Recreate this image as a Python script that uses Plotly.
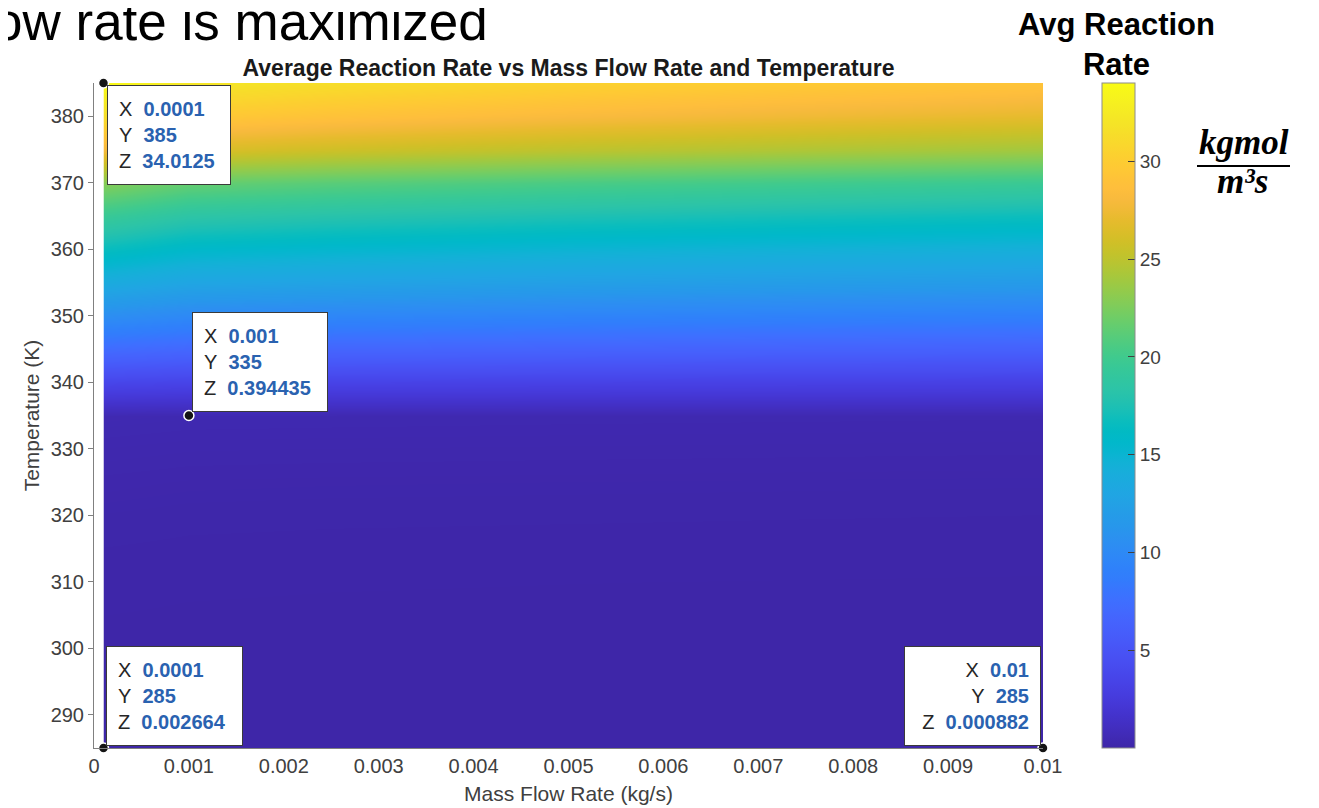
import plotly.graph_objects as go

# ---------------- data ----------------
mass_flow = [0.0001, 0.001, 0.0025, 0.005, 0.0075, 0.01]          # kg/s
temperature = [285, 290, 295, 300, 305, 310, 315, 320, 325, 330, 335,
               340, 345, 350, 355, 360, 365, 370, 375, 380, 385]  # K
# average reaction rate, one row per temperature, one column per mass flow
rate = [
    [0.002664, 0.0019, 0.0015, 0.0012, 0.00102, 0.000882],
    [0.0047, 0.0034, 0.0027, 0.0022, 0.0019, 0.0017],
    [0.0082, 0.0060, 0.0048, 0.0040, 0.0035, 0.0031],
    [0.0140, 0.0104, 0.0085, 0.0072, 0.0064, 0.0058],
    [0.0235, 0.0180, 0.0150, 0.0130, 0.0117, 0.0107],
    [0.040, 0.031, 0.027, 0.024, 0.022, 0.020],
    [0.066, 0.053, 0.047, 0.043, 0.040, 0.037],
    [0.110, 0.090, 0.082, 0.077, 0.072, 0.068],
    [0.180, 0.152, 0.142, 0.135, 0.128, 0.122],
    [0.290, 0.255, 0.245, 0.235, 0.226, 0.218],
    [0.430, 0.394435, 0.385, 0.370, 0.360, 0.350],
    [3.68, 3.48, 3.40, 3.30, 3.22, 3.16],
    [7.25, 6.86, 6.70, 6.50, 6.35, 6.22],
    [10.48, 9.92, 9.68, 9.40, 9.18, 9.00],
    [13.71, 12.98, 12.67, 12.30, 12.02, 11.77],
    [16.61, 15.72, 15.35, 14.90, 14.56, 14.26],
    [19.51, 18.46, 18.03, 17.50, 17.10, 16.75],
    [22.86, 21.63, 21.12, 20.50, 20.03, 19.62],
    [27.88, 26.38, 25.75, 25.00, 24.43, 23.93],
    [31.44, 29.75, 29.05, 28.20, 27.55, 26.99],
    [34.0125, 32.18, 31.42, 30.50, 29.80, 29.19],
]

x_tick_vals = [0, 0.001, 0.002, 0.003, 0.004, 0.005, 0.006, 0.007, 0.008, 0.009, 0.01]
x_tick_text = ["0", "0.001", "0.002", "0.003", "0.004", "0.005", "0.006",
               "0.007", "0.008", "0.009", "0.01"]
y_tick_vals = [290, 300, 310, 320, 330, 340, 350, 360, 370, 380]
cbar_tick_vals = [5, 10, 15, 20, 25, 30]

# data tips: (mass flow, temperature)
tip_mass_flow = [0.0001, 0.001, 0.0001, 0.01]
tip_temperature = [385, 335, 285, 285]

# ---------------- style ----------------
parula_rgb = [
    (0.2422, 0.1504, 0.6603), (0.2504, 0.1650, 0.7076), (0.2578, 0.1818, 0.7511),
    (0.2647, 0.1978, 0.7952), (0.2706, 0.2147, 0.8364), (0.2751, 0.2342, 0.8710),
    (0.2783, 0.2559, 0.8991), (0.2803, 0.2782, 0.9221), (0.2813, 0.3006, 0.9414),
    (0.2810, 0.3228, 0.9579), (0.2795, 0.3447, 0.9717), (0.2760, 0.3667, 0.9829),
    (0.2699, 0.3892, 0.9906), (0.2602, 0.4123, 0.9952), (0.2440, 0.4358, 0.9988),
    (0.2206, 0.4603, 0.9973), (0.1963, 0.4847, 0.9892), (0.1834, 0.5074, 0.9798),
    (0.1786, 0.5289, 0.9682), (0.1764, 0.5499, 0.9520), (0.1687, 0.5703, 0.9359),
    (0.1540, 0.5902, 0.9218), (0.1460, 0.6091, 0.9079), (0.1380, 0.6276, 0.8973),
    (0.1248, 0.6459, 0.8883), (0.1113, 0.6635, 0.8763), (0.0952, 0.6798, 0.8598),
    (0.0689, 0.6948, 0.8394), (0.0297, 0.7082, 0.8163), (0.0036, 0.7203, 0.7917),
    (0.0067, 0.7312, 0.7660), (0.0433, 0.7411, 0.7394), (0.0964, 0.7500, 0.7120),
    (0.1408, 0.7584, 0.6842), (0.1717, 0.7670, 0.6554), (0.1938, 0.7758, 0.6251),
    (0.2161, 0.7843, 0.5923), (0.2470, 0.7918, 0.5567), (0.2906, 0.7973, 0.5188),
    (0.3406, 0.8008, 0.4789), (0.3909, 0.8029, 0.4354), (0.4456, 0.8024, 0.3909),
    (0.5044, 0.7993, 0.3480), (0.5616, 0.7942, 0.3045), (0.6174, 0.7876, 0.2612),
    (0.6720, 0.7793, 0.2227), (0.7242, 0.7698, 0.1910), (0.7738, 0.7598, 0.1646),
    (0.8203, 0.7498, 0.1535), (0.8634, 0.7406, 0.1596), (0.9035, 0.7330, 0.1774),
    (0.9393, 0.7288, 0.2100), (0.9728, 0.7298, 0.2394), (0.9956, 0.7434, 0.2371),
    (0.9970, 0.7659, 0.2199), (0.9952, 0.7893, 0.2028), (0.9892, 0.8136, 0.1885),
    (0.9786, 0.8386, 0.1766), (0.9676, 0.8639, 0.1643), (0.9610, 0.8890, 0.1537),
    (0.9597, 0.9135, 0.1423), (0.9628, 0.9373, 0.1265), (0.9691, 0.9606, 0.1064),
    (0.9769, 0.9839, 0.0805),
]
n = len(parula_rgb)
parula = [[i / (n - 1), "rgb(%d,%d,%d)" % tuple(round(c * 255) for c in rgb)]
          for i, rgb in enumerate(parula_rgb)]

FONT = "Liberation Sans, Arial, Helvetica, sans-serif"
SERIF = "Liberation Serif, DejaVu Serif, serif"
GRAY = "#404040"
AXIS_GRAY = "#808080"
TIP_BLUE = "#2a62b0"

# page has an 8px body margin: figure is drawn at (8, 8) in the window
OFF = 8
FW, FH = 1319 - OFF, 808 - OFF
# plot area in window pixels
SL, SR, ST, SB = 94, 1043, 83, 748
ML, MT = SL - OFF, ST - OFF
MR, MB = FW - (SR - OFF), FH - (SB - OFF)


def px(xs):
    return (xs - SL) / (SR - SL)


def py(ys):
    return (SB - ys) / (SB - ST)


zmin = min(min(r) for r in rate)
zmax = max(max(r) for r in rate)

fig = go.Figure()
fig.add_trace(go.Contour(
    x=mass_flow, y=temperature, z=rate,
    colorscale=parula, zmin=zmin, zmax=zmax,
    contours=dict(coloring="heatmap", showlines=False),
    line=dict(width=0),
    hoverinfo="skip",
    colorbar=dict(
        x=px(1102), xanchor="left", xpad=0,
        y=0.5, yanchor="middle", len=1, lenmode="fraction", ypad=0,
        thickness=33, outlinewidth=1, outlinecolor="#8c8c8c",
        ticks="inside", ticklen=7, tickcolor=GRAY, tickwidth=1,
        tickvals=cbar_tick_vals,
        tickfont=dict(family=FONT, size=19, color=GRAY),
    ),
))

fig.add_trace(go.Scatter(
    x=tip_mass_flow, y=tip_temperature, mode="markers",
    marker=dict(size=10, color="#141414", line=dict(color="white", width=1.5)),
    cliponaxis=False, hoverinfo="skip", showlegend=False,
))


def lookup(m, t):
    return rate[temperature.index(t)][mass_flow.index(m)]


def tip_text(m, t):
    sp = "\u00a0\u00a0"
    vals = [("X", m), ("Y", t), ("Z", lookup(m, t))]
    return "<br>".join(
        "%s%s<b><span style='color:%s'>%s</span></b>" % (lab, sp, TIP_BLUE, "%g" % v)
        for lab, v in vals)


# placement of each data tip box relative to its point (style only)
tip_layout = [
    dict(xanchor="left", yanchor="top", xshift=4, yshift=-2, width=100, align="left"),
    dict(xanchor="left", yanchor="bottom", xshift=3, yshift=4, width=112, align="left"),
    dict(xanchor="left", yanchor="bottom", xshift=3, yshift=2, width=113, align="left"),
    dict(xanchor="right", yanchor="bottom", xshift=-2, yshift=2, width=113, align="right"),
]

annotations = []
for m, t, lay in zip(tip_mass_flow, tip_temperature, tip_layout):
    annotations.append(dict(
        x=m, y=t, xref="x", yref="y", text=tip_text(m, t), showarrow=False,
        bgcolor="white", bordercolor="#3a3a3a", borderwidth=1, borderpad=11,
        height=76, valign="middle",
        font=dict(family=FONT, size=20, color="#262626"), **lay))

# colour bar title and units
annotations.append(dict(
    x=px(1116), y=py(44), xref="paper", yref="paper", xanchor="center", yanchor="middle",
    text="<b>Avg Reaction<br>Rate</b>", showarrow=False,
    font=dict(family=FONT, size=31, color="black")))
annotations.append(dict(
    x=px(1244), y=py(164), xref="paper", yref="paper", xanchor="center", yanchor="bottom",
    text="<b><i>kgmol</i></b>", showarrow=False,
    font=dict(family=SERIF, size=35, color="black")))
annotations.append(dict(
    x=px(1242), y=py(160), xref="paper", yref="paper", xanchor="center", yanchor="top",
    text="<b><i>m\u00b3s</i></b>", showarrow=False,
    font=dict(family=SERIF, size=35, color="black")))

# cut-off slide heading above the chart
annotations.append(dict(
    x=px(490), y=py(53), xref="paper", yref="paper", xanchor="right", yanchor="bottom",
    text="ow rate is maximized", showarrow=False,
    font=dict(family=FONT, size=53, color="black")))

shapes = [dict(type="line", xref="paper", yref="paper",
               x0=px(1197), x1=px(1290), y0=py(166), y1=py(166),
               line=dict(color="black", width=2))]

fig.update_layout(
    width=FW, height=FH,
    margin=dict(l=ML, r=MR, t=MT, b=MB, autoexpand=False),
    paper_bgcolor="white", plot_bgcolor="white",
    showlegend=False,
    title=dict(text="<b>Average Reaction Rate vs Mass Flow Rate and Temperature</b>",
               x=0.5, xref="paper", xanchor="center",
               y=1 - (68 - OFF) / FH, yref="container", yanchor="middle",
               font=dict(family=FONT, size=23, color="#1a1a1a")),
    xaxis=dict(range=[0, 0.01], tickvals=x_tick_vals, ticktext=x_tick_text,
               showgrid=False, zeroline=False, showline=True, linecolor=AXIS_GRAY,
               linewidth=1, ticks="", ticklabelstandoff=0,
               tickfont=dict(family=FONT, size=20, color=GRAY),
               title=dict(text="Mass Flow Rate (kg/s)", standoff=10,
                          font=dict(family=FONT, size=21, color=GRAY))),
    yaxis=dict(range=[285, 385], tickvals=y_tick_vals,
               showgrid=False, zeroline=False, showline=True, linecolor=AXIS_GRAY,
               linewidth=1, ticks="outside", ticklen=5, tickcolor=AXIS_GRAY,
               tickfont=dict(family=FONT, size=20, color=GRAY),
               title=dict(text="Temperature (K)", standoff=5,
                          font=dict(family=FONT, size=21, color=GRAY))),
    annotations=annotations,
    shapes=shapes,
)

fig.write_html("out.html")
